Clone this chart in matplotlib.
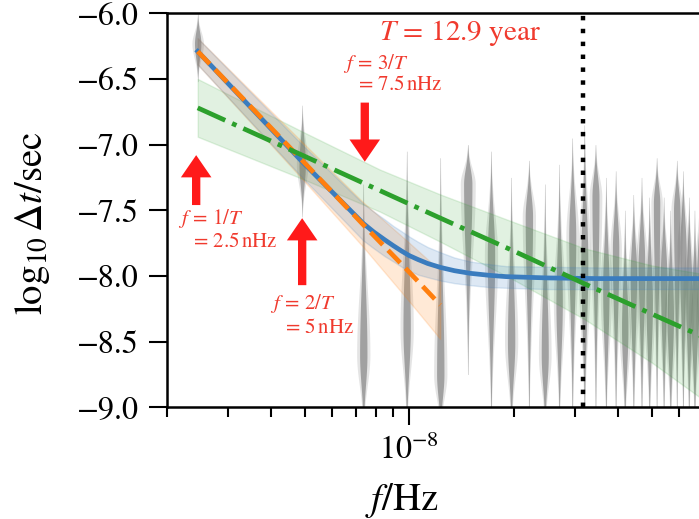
import matplotlib
matplotlib.use('Agg')
import matplotlib.pyplot as plt
import numpy as np
from matplotlib.ticker import LogLocator, NullFormatter

plt.rcParams['font.family'] = ['STIXGeneral', 'DejaVu Serif']
plt.rcParams['mathtext.fontset'] = 'stix'

# observation span
T_year = 12.9
T_sec = T_year * 365.25 * 86400.0

# violins at the harmonics k/T : top, peak, bottom (log10 dt) and relative width
violin_k = list(range(1, 30))
violin_top = [-6.00, -6.70, -7.30, -7.05, -7.10, -7.00, -7.05, -7.25, -7.12, -7.30,
              -7.15, -6.95, -6.85, -7.00, -7.25, -7.20, -7.50, -7.38, -7.25, -7.40,
              -7.10, -7.40, -7.50, -7.12, -7.20, -7.40, -7.50, -7.30, -7.30]
violin_peak = [-6.23, -7.15, -8.60, -8.40, -8.75, -7.30, -7.85, -8.50, -7.55, -8.60,
               -8.20, -7.70, -7.90, -7.40, -8.10, -7.80, -8.40, -8.00, -7.90, -8.20,
               -7.45, -8.00, -8.30, -7.50, -7.80, -8.10, -8.30, -8.00, -8.00]
violin_bottom = [-6.52, -7.55, -9.2, -9.2, -9.2, -8.75, -9.2, -9.2, -9.2, -9.2,
                 -9.2, -9.2, -9.2, -9.2, -9.2, -9.2, -9.2, -9.2, -9.2, -9.2,
                 -9.2, -9.2, -9.2, -9.2, -9.2, -9.2, -9.2, -9.2, -9.2]
violin_rel = [1.0, 1.0, 1.15, 1.15, 1.15, 1.3, 1.15, 1.15, 1.15, 1.1,
              1.0, 1.1, 1.1, 1.1, 1.0, 1.0, 1.0, 1.0, 1.0, 1.0,
              1.0, 1.0, 1.0, 1.0, 1.0, 1.0, 1.0, 1.0, 1.0]

# blue: fitted curve (solid) with band, frequencies in nHz
blue_f = [2.4565, 4.913, 7.37, 7.9, 8.5, 9.0, 9.5, 10.0, 10.6, 11.3, 12.3, 13.5, 15.0, 17.0,
          19.0, 25.0, 35.0, 80.0]
blue_y = [-6.29, -7.13, -7.60, -7.665, -7.725, -7.77, -7.81, -7.845, -7.875, -7.905, -7.935,
          -7.96, -7.98, -7.995, -8.005, -8.015, -8.02, -8.02]
blue_hi = [-6.19, -7.00, -7.45, -7.51, -7.57, -7.62, -7.66, -7.70, -7.74, -7.78, -7.82,
           -7.86, -7.89, -7.91, -7.925, -7.93, -7.935, -7.935]
blue_lo = [-6.39, -7.25, -7.73, -7.79, -7.85, -7.89, -7.93, -7.96, -7.99, -8.01, -8.035,
           -8.055, -8.07, -8.085, -8.09, -8.10, -8.10, -8.10]

# orange: power law (dashed) up to 5/T
orange_f = [2.4565, 4.913, 7.37, 9.826, 12.28]
orange_y = [-6.29, -7.12, -7.61, -7.95, -8.22]
orange_hi = [-6.19, -6.98, -7.44, -7.73, -7.96]
orange_lo = [-6.39, -7.26, -7.78, -8.17, -8.48]

# green: power law (dash-dot) over all frequencies
green_f = [2.4565, 4.913, 8.23, 12.3, 20.0, 32.0, 50.0, 80.0]
green_y = [-6.72, -7.08, -7.35, -7.56, -7.81, -8.06, -8.29, -8.53]
green_hi = [-6.50, -6.90, -7.19, -7.38, -7.59, -7.79, -7.92, -8.01]
green_lo = [-6.94, -7.26, -7.51, -7.74, -8.03, -8.33, -8.66, -9.05]

f_year = 1.0 / (365.25 * 86400.0)

fig = plt.figure(figsize=(6.99, 5.19), dpi=100)
ax = fig.add_axes([166.7 / 699, 111.7 / 519, (713 - 166.7) / 699, 394 / 519])

# violins
hw_px = 3.2
dec_per_px = np.log10(7.5e-8 / 2e-9) / (713 - 166.7)
for k, top, pk, bot, rel in zip(violin_k, violin_top, violin_peak, violin_bottom, violin_rel):
    f = k / T_sec
    yy = np.linspace(bot, top, 300)
    s_up = (top - pk) / 2.6
    s_dn = (pk - bot) / 2.6
    prof = np.where(yy > pk, np.exp(-0.5 * ((yy - pk) / s_up) ** 2),
                    np.exp(-0.5 * ((yy - pk) / s_dn) ** 2))
    for scale, alpha in [(1.8, 0.18), (1.0, 0.55)]:
        w = hw_px * rel * scale * dec_per_px * prof
        ax.fill_betweenx(yy, f * 10 ** (-w), f * 10 ** w, color='0.42', alpha=alpha, lw=0, zorder=1)

c_blue = '#3a7cbe'
c_orange = '#ff7f0e'
c_green = '#2ca02c'

bf = np.array(blue_f) * 1e-9
of = np.array(orange_f) * 1e-9
gf = np.array(green_f) * 1e-9

ax.fill_between(gf, green_lo, green_hi, color=c_green, alpha=0.14, lw=1, zorder=2)
ax.fill_between(of, orange_lo, orange_hi, color=c_orange, alpha=0.17, lw=1, zorder=2)
ax.fill_between(bf, blue_lo, blue_hi, color=c_blue, alpha=0.17, lw=1, zorder=2)

ax.plot(bf, blue_y, color=c_blue, lw=3.4, zorder=3)
ax.plot(of, orange_y, color=c_orange, lw=3.4, ls='--', zorder=4)
ax.plot(gf, green_y, color=c_green, lw=3.4, ls='-.', zorder=4)

ax.axvline(f_year, color='black', lw=3.2, ls=(0, (1, 1.9)), zorder=5)

# arrows
red = '#ff1a1a'
txt_red = '#f03a2e'
arr = dict(arrowstyle='simple,head_length=1.6,head_width=2.2,tail_width=0.6',
           color=red, lw=0, shrinkA=0, shrinkB=0, mutation_scale=10)
ax.annotate('', xy=(1 / T_sec * 0.99, -7.08), xytext=(1 / T_sec * 0.99, -7.46), arrowprops=arr, zorder=6)
ax.annotate('', xy=(2 / T_sec, -7.56), xytext=(2 / T_sec, -8.07), arrowprops=arr, zorder=6)
ax.annotate('', xy=(3 / T_sec * 1.01, -7.13), xytext=(3 / T_sec * 1.01, -6.68), arrowprops=arr, zorder=6)

fs_s = 15
ax.text(2.154e-9, -7.56, r'$f\,=\,1/T$', color=txt_red, fontsize=fs_s, va='center', ha='left')
ax.text(2.333e-9, -7.74, r'$=\,2.5\,\mathrm{nHz}$', color=txt_red, fontsize=fs_s, va='center', ha='left')
ax.text(3.97e-9, -8.21, r'$f\,=\,2/T$', color=txt_red, fontsize=fs_s, va='center', ha='left')
ax.text(4.295e-9, -8.40, r'$=\,5\,\mathrm{nHz}$', color=txt_red, fontsize=fs_s, va='center', ha='left')
ax.text(6.44e-9, -6.38, r'$f\,=\,3/T$', color=txt_red, fontsize=fs_s, va='center', ha='left')
ax.text(6.97e-9, -6.55, r'$=\,7.5\,\mathrm{nHz}$', color=txt_red, fontsize=fs_s, va='center', ha='left')
ax.text(8.2e-9, -6.15, r'$T\,=\,12.9$ year', color=txt_red, fontsize=21, va='center', ha='left')

ax.set_xscale('log')
ax.set_xlim(2e-9, 7.5e-8)
ax.set_ylim(-9.0, -6.0)
ax.set_yticks([-9.0, -8.5, -8.0, -7.5, -7.0, -6.5, -6.0])
ax.xaxis.set_minor_locator(LogLocator(base=10, subs=np.arange(2, 10)))
ax.xaxis.set_minor_formatter(NullFormatter())

for sp in ax.spines.values():
    sp.set_linewidth(1.8)
ax.tick_params(which='major', length=13, width=1.5, labelsize=23, pad=7)
ax.tick_params(which='minor', length=7, width=1.5)

ax.set_xlabel(r'$f/\mathrm{Hz}$', fontsize=28)
ax.xaxis.set_label_coords((402 - 166.7) / 546.3, -(500 - 407.3) / 394, transform=ax.transAxes)
ax.xaxis.label.set_va('center')
ax.set_ylabel(r'$\log_{10}\Delta t/\mathrm{sec}$', fontsize=28)
ax.yaxis.set_label_coords(-(166.7 - 33) / 546.3, (407.3 - 223.5) / 394, transform=ax.transAxes)
ax.yaxis.label.set_va('center')

fig.savefig('out.png', dpi=100)
